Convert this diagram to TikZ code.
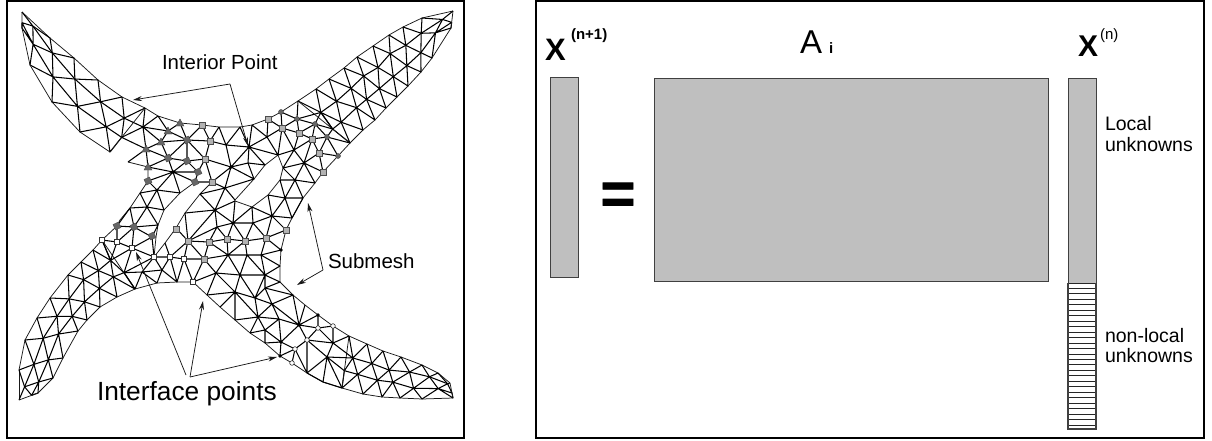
\documentclass[tikz,border=0pt]{standalone}
\usepackage{fontspec}
\setmainfont{Liberation Sans}
\usetikzlibrary{calc,arrows.meta}
\tikzset{
  meshedge/.style={line width=1.05pt,black,line join=round},
  meshrim/.style={line width=0.75pt,black!90,line join=round},
  framebox/.style={draw=black,line width=2.2pt},
  grayblock/.style={draw=black!75,line width=1.1pt,fill=black!25},
  leader/.style={line width=0.75pt,black!90},
  leadarrow/.style={leader,-{Stealth[length=9pt,width=5pt]}},
  lightsq/.style={draw=black!70,line width=0.5pt,fill=black!30,minimum size=6.5pt,inner sep=0pt,shape=rectangle},
  whitesq/.style={draw=black!80,line width=0.6pt,fill=white,minimum size=5.5pt,inner sep=0pt,shape=rectangle},
  darkdia/.style={draw=black!70,line width=0.4pt,fill=black!60,minimum size=6pt,inner sep=0pt,shape=rectangle,rotate=25},
  darktri/.style={draw=black!70,line width=0.4pt,fill=black!60},
  darkdot/.style={draw=black!75,line width=0.4pt,fill=black!60,minimum size=5pt,inner sep=0pt,shape=circle},
  blackdot/.style={fill=black,minimum size=3.6pt,inner sep=0pt,shape=circle},
  whitedot/.style={draw=black!80,line width=0.6pt,fill=white,minimum size=4.6pt,inner sep=0pt,shape=circle},
  lab/.style={anchor=base west,inner sep=0pt,outer sep=0pt},
}
\newcommand\fs[1]{\fontsize{#1}{#1}\selectfont}
\newcommand\meshstrip[3]{%
  \foreach \xa/\ya [count=\i] in {#2} {\coordinate (#1A\i) at (\xa,\ya); \xdef\nA{\i}}
  \foreach \xa/\ya [count=\i] in {#3} {\coordinate (#1B\i) at (\xa,\ya);}
  \pgfmathtruncatemacro\nB{\nA-1}
  \foreach \i in {1,...,\nB} {
    \pgfmathtruncatemacro\j{\i+1}
    \pgfmathsetmacro\jx{2.4*rand}\pgfmathsetmacro\jy{2.4*rand}
    \coordinate (#1M\i) at ($(#1A\i)!.5!(#1A\j)$);
    \coordinate (#1R\i) at ($(#1M\i)!.333!(#1B\i)+(\jx,\jy)$);
  }
  \foreach \i in {1,...,\nA} {
    \pgfmathtruncatemacro\pa{max(\i-1,1)}
    \pgfmathtruncatemacro\pb{min(\i,\nB)}
    \ifnum\i=1 \def\jx{0}\def\jy{0}\else
      \ifnum\i=\nA\relax \def\jx{0}\def\jy{0}\else
        \pgfmathsetmacro\jx{2.4*rand}\pgfmathsetmacro\jy{2.4*rand}\fi\fi
    \coordinate (#1N\i) at ($(#1B\pa)!.5!(#1B\pb)$);
    \coordinate (#1S\i) at ($(#1N\i)!.333!(#1A\i)+(\jx,\jy)$);
  }
  \foreach \i in {1,...,\nB} {
    \pgfmathtruncatemacro\j{\i+1}
    \draw[meshrim] (#1A\i)--(#1A\j);
    \draw[meshedge] (#1A\i)--(#1R\i)--(#1A\j) (#1S\i)--(#1R\i)--(#1S\j)--(#1S\i) (#1S\i)--(#1B\i)--(#1S\j);
    \ifnum\i<\nB\relax
      \draw[meshedge] (#1R\i)--(#1R\j);
      \draw[meshrim] (#1B\i)--(#1B\j);
    \fi
  }
  \draw[meshrim] (#1A1)--(#1S1)--(#1B1) (#1A\nA)--(#1S\nA)--(#1B\nB);
}
\begin{document}
\begin{tikzpicture}[x=1pt,y=-1pt]
\useasboundingbox (0,0) rectangle (1212,440);
\pgfmathsetseed{11}
\draw[framebox] (7,1) rectangle (464,438);
\draw[framebox] (536,1) rectangle (1204,438);

% ---- arms ----
\meshstrip{TL}{22/12,50/38,74/58,98/80,122/97,145/108}{22/28,30/65,52/102,80/132,110/152,128/162}
\meshstrip{TR}{298/101,316/89,329/79,344/68,357/57,373/46,389/35,403/27,422/18,453/11}{350/143,363/130,375/120,386/108,397/97,408/86,421/72,432/58,451/28}
\meshstrip{BL}{19/400,19/370,25/340,37/318,50/298,68/275,81/262,93/250,102/240}{38/393,53/378,63/358,78/331,87/320,100/307,117/297,135/289}
\meshstrip{BR}{349/336,367/344,383/351,401/357,422/365,438/373,450/383}{342/388,363/394,382/397,400/398,422/399,453/398}

% ---- rim of the centre ----
\draw[meshrim]
  (145,108)--(158,116)--(180,123)--(202,125)--(219,127)--(240,127)--(252,125)--(268,119)--(281,112)--(298,101)
  (128,162)--(148,167)--(148,181)--(140,193)--(130,208)--(120,220)--(117,226)--(102,240)
  (195,182)--(180,193)--(164,210)--(158,225)--(156,237)--(154,257)
  (212,182)--(200,194)--(185,213)--(176,228)--(165,243)--(154,257)
  (235,200)--(254,179)--(265,165)--(278,155)--(283,168)--(280,180)--(268,195)--(252,207)--(235,201)--(235,200)
  (338,156)--(323,172)--(315,183)--(303,198)--(292,218)--(286,230)--(281,250)--(280,266)--(280,282)
  (280,282)--(293,295)--(305,305)--(318,315)--(333,326)--(349,336)
  (135,289)--(157,283)--(177,282)--(193,282)--(207,295)--(220,307)--(235,320)--(250,333)--(265,343)--(280,356)--(292,363)--(307,373)--(323,382)--(342,388)
  (338,156)--(350,143);

% ---- centre ----
\draw[meshedge]
  (143,127)--(145,108) (143,127)--(158,116) (143,127)--(168,131) (143,127)--(161,142) (143,127)--(146,149)
  (TLS6)--(143,127) (TLS6)--(146,149) (146,149)--(128,162) (TLR5)--(143,127)
  (158,116)--(168,131)--(180,123) (168,131)--(161,142)--(146,149)--(148,167)
  (148,167)--(168,158) (146,149)--(168,158) (161,142)--(168,158) (161,142)--(187,140)
  (168,131)--(187,140) (180,123)--(187,140)--(202,125)--(210,141)--(187,140)
  (219,127)--(210,141)--(205,159)--(187,140)--(187,161) (168,158)--(187,140) (168,158)--(187,161)--(205,159)
  (187,161)--(198,172)--(205,159) (198,172)--(195,182) (187,161)--(173,172)--(168,158)
  (148,167)--(173,172)--(148,181) (173,172)--(198,172) (173,172)--(195,182)--(212,182)--(205,159)
  (210,141)--(226,145)--(219,127) (205,159)--(231,167)
  (173,172)--(157,190)--(148,181) (173,172)--(180,193) (140,193)--(157,190)--(180,193)
  (140,193)--(147,207)--(157,190)--(164,210)--(147,207)--(130,208)
  (134,227)--(130,208) (134,227)--(147,207) (134,227)--(158,225)--(147,207)
  (152,237)--(134,227) (152,237)--(158,225) (152,237)--(154,257) (152,237)--(132,248)
  (134,227)--(132,248)--(117,242)--(134,227) (117,226)--(117,242) (117,226)--(134,227) (117,226)--(130,208)
  (102,240)--(117,242)
  (102,240)--(BLR8)--(117,242) (132,248)--(BLR8) (132,248)--(BLS9)--(154,257)--(132,248)
  (BLS9)--(142,272)--(154,257)--(162,270)--(142,272)--(157,283)--(162,270)--(177,282)
  (142,272)--(135,289) (BLS9)--(135,289)
  (154,257)--(170,257)--(184,259) (170,257)--(162,270) (170,257)--(177,282)--(184,259)--(193,282)
  (165,243)--(170,257)--(188,241)--(184,259)--(204,259)--(188,241)--(176,228)
  (185,213)--(188,241)--(215,210)--(185,213) (200,194)--(215,210)
  (200,194)--(225,188)--(212,182)--(231,167)--(225,188)--(215,210)
  (225,188)--(235,200) (225,188)--(254,179)--(231,167)
  (226,145)--(231,167)--(249,147)--(226,145)--(240,127)--(249,147)--(252,125)
  (231,167)--(248,163)--(249,147) (248,163)--(265,165)--(249,147) (248,163)--(254,179)
  (249,147)--(278,155) (249,147)--(267,137)--(278,155)
  (252,125)--(267,137)--(268,119)--(282,128)--(281,112)
  (267,137)--(282,128)--(278,155)--(294,150)--(282,128)--(297,119)--(281,112)
  (282,128)--(299,133)--(297,119)--(315,124)--(299,133)--(312,139)--(315,124)--(327,137)--(312,139)--(319,153)--(327,137)--(338,156)--(319,153)--(323,172)
  (294,150)--(299,133) (294,150)--(312,139) (294,150)--(304,163)--(319,153) (304,163)--(312,139) (304,163)--(323,172)
  (298,101)--(297,119)--(TRR1)--(315,124)--(TRS1)--(327,137)--(350,143) (TRR1)--(TRS1)
  (283,168)--(294,150) (283,168)--(304,163) (283,168)--(295,180)--(304,163)--(315,183)--(295,180)
  (280,180)--(295,180)--(285,198)--(280,180) (268,195)--(285,198)--(303,198)--(295,180)
  (268,195)--(272,216)--(285,198)--(292,218)--(272,216) (303,198)--(292,218) (272,216)--(286,230)
  (252,207)--(272,216) (252,207)--(233,223)--(235,201) (215,210)--(235,201)
  (252,207)--(253,223)--(233,223) (272,216)--(253,223)--(266,238)--(272,216) (266,238)--(286,230)
  (253,223)--(245,241)--(266,238) (233,223)--(245,241)--(227,239)--(233,223)
  (217,227)--(233,223) (217,227)--(227,239) (217,227)--(209,242)--(227,239)
  (215,210)--(233,223) (215,210)--(217,227)--(188,241)--(209,242)
  (209,242)--(204,259) (209,242)--(228,255)--(227,239) (204,259)--(228,255)--(216,273)--(204,259)
  (216,273)--(240,275)--(228,255) (216,273)--(193,282)--(204,259) (228,255)--(245,241)--(247,255)--(228,255)
  (216,273)--(207,295) (216,273)--(235,292)--(240,275)--(255,298)--(235,292)
  (247,255)--(240,275)--(265,275)--(247,255)--(261,255)--(265,275)--(255,298)
  (266,238)--(261,255)--(281,250)--(266,238) (261,255)--(280,266)--(265,275)--(280,282)--(265,288)--(265,275)
  (265,288)--(255,298)--(272,304)--(265,288)--(293,295)--(272,304)
  (235,292)--(207,295) (235,292)--(220,307) (235,292)--(235,320) (235,292)--(258,317)--(255,298)
  (272,304)--(258,317)--(235,320) (258,317)--(250,333) (258,317)--(265,330)--(250,333) (265,330)--(265,343)
  (272,304)--(279,319)--(258,317) (279,319)--(265,330)--(281,342)--(279,319) (265,343)--(281,342)--(280,356)
  (272,304)--(299,325)--(293,295) (299,325)--(279,319) (299,325)--(281,342) (299,325)--(305,305)
  (318,315)--(299,325)--(318,328)--(318,315) (318,328)--(333,326) (299,325)--(307,340)--(318,328)--(333,343)--(307,340)
  (307,340)--(295,349)--(281,342) (295,349)--(280,356) (295,349)--(292,363) (295,349)--(307,373)--(307,340)
  (307,340)--(327,357)--(307,373) (333,343)--(327,357) (333,326)--(333,343)--(349,336) (333,343)--(BRR1)--(327,357)
  (327,357)--(BRS1) (327,357)--(342,388)--(323,382)--(327,357) (307,373)--(323,382)
  ;

% ---- markers ----
\foreach \px/\py in {180/123,168/131,161/142,146/149,148/167}
  \filldraw[darktri] (\px-4,\py+3)--(\px,\py-4)--(\px+4,\py+3)--cycle;
\foreach \px/\py/\nm in {148/181/a,168/158/b,187/140/c,187/161/d,198/172/e,195/182/f,117/226/g,134/227/h,152/236/k}
  \node[darkdia] (dia\nm) at (\px,\py) {};
\foreach \px/\py/\nm in {202/125/a,210/141/b,205/159/c,212/182/d,268/119/e,282/128/f,299/133/g,312/139/h,319/153/k,323/172/l,176/229/m,188/241/n,209/242/p,227/239/q,245/241/r,266/238/s,286/230/t,204/259/u}
  \node[lightsq] (lsq\nm) at (\px,\py) {};
\foreach \px/\py/\nm in {102/240/a,117/242/b,132/248/c,154/257/d,170/257/e,184/259/f,193/282/g}
  \node[whitesq] (wsq\nm) at (\px,\py) {};
\foreach \px/\py/\nm in {281/112/a,297/119/b,315/124/c,327/137/d,338/156/e}
  \node[darkdot] (ddot\nm) at (\px,\py) {};
\foreach \px/\py/\nm in {318/315/a,299/325/b,281/342/c,280/356/d,249/147/e,231/167/f,173/172/g,281/250/h}
  \node[blackdot] (bdot\nm) at (\px,\py) {};
\foreach \px/\py/\nm in {333/326/a,318/328/b,307/340/c,295/349/d,292/363/e}
  \node[whitedot] (wdot\nm) at (\px,\py) {};

% ---- leaders and labels ----
\node[lab] (interior) at (162,69) {\fs{20.4}Interior Point};
\node[lab] (submesh) at (328,268) {\fs{20.5}Submesh};
\node[lab] (interface) at (97,400) {\fs{26.3}Interface points};

\coordinate (ipv) at (230,84);
\coordinate (ipa) at (133,100);
\coordinate (ipb) at (248,146);
\draw[leadarrow] (ipv)--(ipa);
\draw[leadarrow] (ipv)--(ipb);
\coordinate (smv) at (323,270);
\coordinate (sma) at (308,203);
\coordinate (smb) at (297,285);
\draw[leadarrow] (smv)--(sma);
\draw[leadarrow] (smv)--(smb);
\coordinate (ifv) at (186,375);
\coordinate (ifw) at (190,377);
\coordinate (ifa) at (136,252);
\coordinate (ifb) at (203,301);
\coordinate (ifc) at (277,357);
\draw[leadarrow] (ifv)--(ifa);
\draw[leadarrow] (ifw)--(ifb);
\draw[leadarrow] (ifw)--(ifc);

% ---- right panel ----
\node[grayblock,minimum width=28pt,minimum height=200pt,inner sep=0pt,anchor=north west] (xleft) at (550,77) {};
\node[grayblock,minimum width=394pt,minimum height=203pt,inner sep=0pt,anchor=north west] (matA) at (654,78) {};
\node[grayblock,minimum width=28pt,minimum height=205pt,inner sep=0pt,anchor=north west] (xright) at (1068,78) {};
\foreach \hy in {0,1,...,26}
  \draw[line width=0.9pt,black!85] (1068,283+5.46*\hy)--(1096,283+5.46*\hy);
\draw[black!75,line width=1.1pt] (1068,283)--(1068,429)--(1096,429)--(1096,283);

\node[lab] (xnp) at (545,60) {\fs{31}\bfseries X};
\node[lab] (xnpsup) at (571,39) {\fs{15}\bfseries (n+1)};
\node[lab] (aname) at (800,53) {\fs{33}A};
\node[lab] (asub) at (829,53) {\fs{15}\bfseries i};
\node[lab] (xn) at (1078,56) {\fs{30}\bfseries X};
\node[lab] (xnsup) at (1100,39) {\fs{15}(n)};
\node[anchor=base,inner sep=0pt] (eqsign) at (618,214) {\fs{60}\bfseries\addfontfeature{FakeBold=1.2}=};
\node[lab] (loc1) at (1105,130) {\fs{19.5}Local};
\node[lab] (loc2) at (1105,151) {\fs{19.5}unknowns};
\node[lab] (nl1) at (1105,342) {\fs{19.5}non-local};
\node[lab] (nl2) at (1105,362) {\fs{19.5}unknowns};
\end{tikzpicture}
\end{document}
